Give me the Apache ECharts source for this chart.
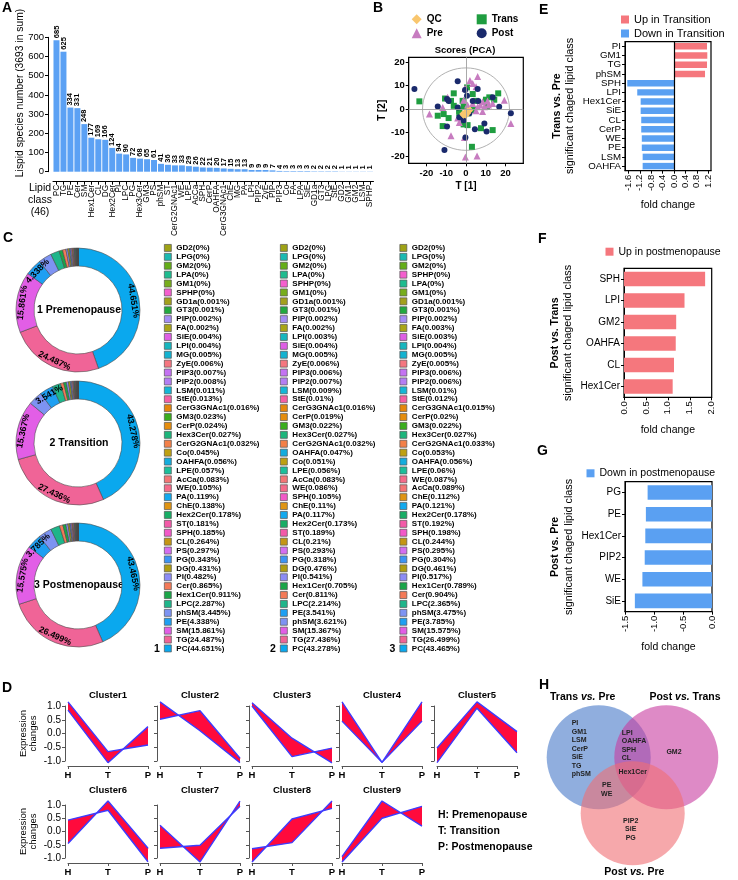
<!DOCTYPE html>
<html>
<head>
<meta charset="utf-8">
<script src="https://cdn.jsdelivr.net/npm/echarts@6.0.0/dist/echarts.min.js"></script>
<style>
html,body{margin:0;padding:0;background:#fff;}
#chart{width:738px;height:880px;}
</style>
</head>
<body>
<div id="chart"></div>
<script>
// ================= DATA =================
// Panel A
const lipidClasses = ['PC','TG','PE','Cer','SM','Hex1Cer','CL','DG','Hex2Cer','PI','LPC','PG','Hex3Cer','GM3','PS','phSM','ST','CerG2GNAc1','WE','LPE','AcCa','SPH','CerP','OAHFA','CerG3GNAc1','ChE','MG','PA','LPI','PIP2','ZyE','PIP','PIP3','Co','FA','LPA','SiE','GD1a','GT3','LPG','StE','GD2','GM1','GM2','LSM','SPHP'];
const lipidCounts = [685,625,334,331,248,177,169,166,124,94,90,72,68,65,61,41,36,33,33,29,26,22,21,20,17,15,13,13,9,9,9,7,4,3,3,3,3,2,2,2,2,1,1,1,1,1];

// Panel B (PCA scores)
const pcaQC = [[-1.7,-2.1],[-0.5,-1.4],[0.5,-0.7],[1.3,-1.0],[2.0,-0.4],[0,-2.6],[-1.2,-2.6],[0.8,-1.8]];
const pcaPre = [[-18.5,-2.1],[-11.8,0.7],[-9.3,5.0],[2.0,12.1],[3.4,10.9],[5.1,9.5],[5.9,13.8],[-0.5,8.9],[-1.2,3.8],[0.8,1.8],[3.4,2.4],[5.9,1.0],[7.2,1.7],[8.4,3.1],[9.3,1.0],[10.9,3.5],[13.5,2.4],[19.4,3.8],[22.7,-6.1],[5.1,-0.7],[-4.2,-3.8],[-3.4,-5.7],[-7.6,-11.3],[-0.3,-20.3],[5.6,-19.9],[-0.8,-12.1],[8.4,-1.0],[11.4,1.8]];
const pcaTrans = [[-23.6,3.3],[-10.6,4.5],[-6.2,6.7],[-7.6,3.5],[-3.4,-0.7],[-1.2,1.0],[-14.3,-2.8],[-11.3,-2.1],[-8.8,-3.8],[-11.8,-7.2],[-3.4,-1.8],[-1.2,-6.5],[0.8,-6.8],[-1.7,3.5],[0.5,9.2],[3.4,6.4],[5.1,3.5],[10.1,4.0],[11.8,5.0],[16.3,6.7],[14.3,4.0],[10.6,1.0],[1.2,-1.8],[3.9,-0.4],[13.5,-8.9],[3.0,-16.0],[7.6,-8.1],[-6.2,1.4]];
const pcaPost = [[-26.1,8.5],[-4.2,11.8],[-14.3,1.1],[-9.6,4.3],[-8.8,3.5],[-0.5,8.1],[0.5,5.7],[3.4,3.5],[1.7,-1.7],[6.2,3.5],[-9.6,-7.4],[-3.4,-3.5],[-1.2,-4.7],[4.5,-8.5],[9.3,-6.1],[10.4,-9.5],[16.8,1.0],[22.7,-1.8],[-10.9,-17.4],[-0.3,-12.1],[5.9,8.5],[13.5,5.0],[-4.2,0.7]];
const pcaTicks = [-20,-10,0,10,20];
const pcaEllipseSemiAxes = [22, 17.5];

// Panel C (percent of lipid species per group, legend order)
const preNames = ['GD2','LPG','GM2','LPA','GM1','SPHP','GD1a','GT3','PIP','FA','SiE','LPI','MG','ZyE','PIP3','PIP2','LSM','StE','CerG3GNAc1','GM3','CerP','Hex3Cer','CerG2GNAc1','Co','OAHFA','LPE','AcCa','WE','PA','ChE','Hex2Cer','ST','SPH','CL','PS','PG','DG','PI','Cer','Hex1Cer','LPC','phSM','PE','SM','TG','PC'];
const prePct = [0,0,0,0,0,0,0.001,0.001,0.002,0.002,0.004,0.004,0.005,0.006,0.007,0.008,0.011,0.013,0.016,0.023,0.024,0.027,0.032,0.045,0.056,0.057,0.083,0.105,0.119,0.138,0.178,0.181,0.185,0.264,0.297,0.343,0.431,0.482,0.865,0.911,2.287,3.445,4.338,15.861,24.487,44.651];
const transNames = ['GD2','LPG','GM2','LPA','SPHP','GM1','GD1a','GT3','PIP','FA','LPI','SiE','MG','ZyE','PIP3','PIP2','LSM','StE','CerG3GNAc1','CerP','GM3','Hex3Cer','CerG2GNAc1','OAHFA','Co','LPE','AcCa','WE','SPH','ChE','PA','Hex2Cer','ST','CL','PS','PG','DG','PI','Hex1Cer','Cer','LPC','PE','phSM','SM','TG','PC'];
const transPct = [0,0,0,0,0,0,0.001,0.001,0.002,0.002,0.003,0.004,0.005,0.006,0.006,0.007,0.009,0.01,0.016,0.019,0.022,0.027,0.032,0.047,0.051,0.056,0.083,0.086,0.105,0.11,0.117,0.173,0.189,0.21,0.293,0.318,0.476,0.541,0.705,0.811,2.214,3.541,3.621,15.367,27.436,43.278];
const postNames = ['GD2','LPG','GM2','SPHP','LPA','GM1','GD1a','GT3','PIP','FA','SiE','LPI','MG','ZyE','PIP3','PIP2','LSM','StE','CerG3GNAc1','CerP','GM3','Hex3Cer','CerG2GNAc1','Co','OAHFA','LPE','WE','AcCa','ChE','PA','Hex2Cer','ST','SPH','CL','PS','PG','DG','PI','Hex1Cer','Cer','LPC','phSM','PE','SM','TG','PC'];
const postPct = [0,0,0,0,0,0,0.001,0.001,0.002,0.003,0.003,0.004,0.005,0.005,0.006,0.006,0.01,0.012,0.015,0.02,0.022,0.027,0.033,0.053,0.056,0.06,0.087,0.089,0.112,0.121,0.178,0.192,0.198,0.244,0.295,0.304,0.461,0.517,0.789,0.904,2.365,3.475,3.785,15.575,26.499,43.465];
const donutTitles = ['1 Premenopause','2 Transition','3 Postmenopause'];
const donutIndexLabels = ['1','2','3'];

// Panel D (cluster profiles: two bounding profiles per cluster)
const timePoints = ['H','T','P'];
const clusterNames = ['Cluster1','Cluster2','Cluster3','Cluster4','Cluster5','Cluster6','Cluster7','Cluster8','Cluster9'];
const profileA = [[1.15,-0.66,-0.42],[1.15,0.1,-1.06],[1.12,-0.17,-1.07],[1.15,-1.05,1.15],[-0.53,1.15,0.07],[0.43,0.8,-1.14],[0.24,-1.15,1.15],[-0.65,-0.42,1.15],[-0.95,1.15,0.2]];
const profileB = [[0.85,-1.06,0.25],[0.52,0.83,-0.9],[1.0,-0.84,-0.53],[0.45,-1.05,0.45],[-1.06,0.92,-0.7],[-0.45,1.15,-0.63],[-0.63,-0.52,0.95],[-1.15,0.47,0.87],[-1.15,0.5,0.95]];
const timeLegend = ['H: Premenopause','T: Transition','P: Postmenopause'];

// Panel E
const eClasses = ['PI','GM1','TG','phSM','SPH','LPI','Hex1Cer','SiE','CL','CerP','WE','PE','LSM','OAHFA'];
const eFold = [1.16,1.17,1.16,1.09,-1.64,-1.29,-1.17,-1.17,-1.15,-1.15,-1.13,-1.13,-1.10,-1.10];
const eTicks = [-1.6,-1.2,-0.8,-0.4,0,0.4,0.8,1.2];
// Panel F
const fClasses = ['SPH','LPI','GM2','OAHFA','CL','Hex1Cer'];
const fFold = [1.85,1.38,1.19,1.18,1.14,1.11];
// Panel G
const gClasses = ['PG','PE','Hex1Cer','PIP2','WE','SiE'];
const gFold = [-1.11,-1.14,-1.15,-1.16,-1.20,-1.33];

// Panel H (Venn membership)
const vennTransPreOnly = ['PI','GM1','LSM','CerP','SiE','TG','phSM'];
const vennTransPreAndPostTrans = ['LPI','OAHFA','SPH','CL'];
const vennPostTransOnly = ['GM2'];
const vennAllThree = ['Hex1Cer'];
const vennTransPreAndPostPre = ['PE','WE'];
const vennPostPreOnly = ['PIP2','SiE','PG'];

// ================= STYLE =================
const FONT = '"Liberation Sans", Arial, Helvetica, sans-serif';
const classColor = {
  PC:'#0aa8ee', TG:'#f06497', SM:'#e25ee6', PE:'#1e9ff2', phSM:'#7d93f2', LPC:'#1fb58a', Hex1Cer:'#1aa548',
  Cer:'#f47a58', PI:'#8c8cf5', DG:'#b09d10', PG:'#3d94f3', PS:'#d46ef0', CL:'#c49614', SPH:'#f259c8',
  ST:'#f35aa8', Hex2Cer:'#18ad65', ChE:'#df9413', PA:'#12a9ee', WE:'#f56b8a', AcCa:'#f47575', LPE:'#1cbf9b',
  OAHFA:'#14acdd', Co:'#bea012', CerG2GNAc1:'#f38048', Hex3Cer:'#1cb57b', CerP:'#e58d0e', GM3:'#3aad1e',
  CerG3GNAc1:'#e5870c', StE:'#f55fa3', LSM:'#14b7d6', PIP2:'#b47ef3', PIP3:'#c472f2', ZyE:'#f57680',
  MG:'#13b2d0', LPI:'#17b6be', SiE:'#de5fe4', FA:'#a9a517', PIP:'#a58cf4', GT3:'#22a940', GD1a:'#a3a01c',
  SPHP:'#f45fce', GM1:'#77ad1c', LPA:'#1ebc8f', GM2:'#64ad18', LPG:'#1bb9b1', GD2:'#9ea216'
};
const UP = '#f5777d', DOWN = '#5aa0f2';

function ts(size, bold, color) {
  return {color: color || '#000', fontFamily: FONT, fontSize: size, fontWeight: bold ? 'bold' : 'normal'};
}
const blackLine = {show: true, onZero: false, lineStyle: {color: '#000', width: 1}};
const blackTick = {show: true, length: 3, lineStyle: {color: '#000', width: 1}};

const grids = [], xAxes = [], yAxes = [], series = [], legends = [], gfx = [];

// ---------- A ----------
grids.push({left: 53, top: 37.3, width: 320.5, height: 134.4, outerBoundsMode: 'none'});
xAxes.push({type: 'category', gridIndex: 0, data: lipidClasses, offset: 10,
  axisLine: blackLine, axisTick: Object.assign({interval: 0, alignWithLabel: true}, blackTick),
  axisLabel: Object.assign({interval: 0, rotate: 90, margin: 3}, ts(8.3)), splitLine: {show: false}});
yAxes.push({type: 'value', gridIndex: 0, min: 0, max: 700, interval: 100, offset: 5,
  axisLine: blackLine, axisTick: blackTick, axisLabel: Object.assign({margin: 4}, ts(9.5)), splitLine: {show: false}});
series.push({type: 'bar', xAxisIndex: 0, yAxisIndex: 0, data: lipidCounts, barCategoryGap: '14%',
  itemStyle: {color: '#5ba1f4'}, silent: true,
  label: Object.assign({show: true, position: 'top', rotate: 90, align: 'left', verticalAlign: 'middle', distance: 2}, ts(7.5, true))});

// ---------- B ----------
grids.push({left: 408.7, top: 57.3, width: 114.6, height: 106, show: true, borderColor: '#000', borderWidth: 1.2, outerBoundsMode: 'none'});
xAxes.push({type: 'value', gridIndex: 1, min: -29, max: 29, axisLine: blackLine,
  axisTick: Object.assign({customValues: pcaTicks}, blackTick),
  axisLabel: Object.assign({customValues: pcaTicks, margin: 5}, ts(9.5, true)), splitLine: {show: false},
  name: 'T [1]', nameLocation: 'middle', nameGap: 18, nameTextStyle: ts(10, true)});
yAxes.push({type: 'value', gridIndex: 1, min: -23, max: 22, axisLine: blackLine,
  axisTick: Object.assign({customValues: pcaTicks}, blackTick),
  axisLabel: Object.assign({customValues: pcaTicks, margin: 4}, ts(9.5, true)), splitLine: {show: false},
  name: 'T [2]', nameLocation: 'middle', nameGap: 18, nameTextStyle: ts(10, true)});
series.push({type: 'custom', xAxisIndex: 1, yAxisIndex: 1, silent: true, data: [[0, 0]],
  renderItem: function (params, api) {
    const c = api.coord([api.value(0), api.value(1)]);
    const s = api.size(pcaEllipseSemiAxes);
    return {type: 'ellipse', shape: {cx: c[0], cy: c[1], rx: s[0], ry: s[1]}, style: {fill: 'none', stroke: '#a8a8a8', lineWidth: 0.9}};
  },
  markLine: {silent: true, symbol: 'none', animation: false, label: {show: false},
    lineStyle: {color: '#a0a0a0', width: 0.9, type: 'solid'}, data: [{xAxis: 0}, {yAxis: 0}]}
});
const pcaGroups = [
  {name: 'Trans', data: pcaTrans, symbol: 'rect', size: 6, color: '#1f9d40'},
  {name: 'Pre', data: pcaPre, symbol: 'triangle', size: 7, color: '#c77cc0'},
  {name: 'Post', data: pcaPost, symbol: 'circle', size: 6, color: '#1a2a6c'},
  {name: 'QC', data: pcaQC, symbol: 'diamond', size: 7, color: '#f9c66e'}
];
pcaGroups.forEach(g => series.push({type: 'scatter', name: g.name, xAxisIndex: 1, yAxisIndex: 1, data: g.data,
  symbol: g.symbol, symbolSize: g.size, itemStyle: {color: g.color, opacity: 1}, silent: true}));
legends.push({orient: 'vertical', left: 411.7, top: 13.3, itemWidth: 10, itemHeight: 10, itemGap: 2, padding: 0, selectedMode: false,
  data: ['QC', 'Pre'], textStyle: Object.assign({lineHeight: 12}, ts(10, true))});
legends.push({orient: 'vertical', left: 476.7, top: 13.3, itemWidth: 10, itemHeight: 10, itemGap: 2, padding: 0, selectedMode: false,
  data: ['Trans', 'Post'], textStyle: Object.assign({lineHeight: 12}, ts(10, true))});

// ---------- E / F / G ----------
function foldPanel(gi, box, classes, fold, xcfg, upName, downName, bandGap, labelSize) {
  grids.push(Object.assign({show: true, borderColor: '#000', borderWidth: 1.2, outerBoundsMode: 'none'}, box));
  xAxes.push(Object.assign({type: 'value', gridIndex: gi, axisLine: blackLine, splitLine: {show: false},
    nameLocation: 'middle', name: 'fold change', nameTextStyle: ts(10.5)}, xcfg));
  yAxes.push({type: 'category', gridIndex: gi, data: classes, inverse: true, axisLine: blackLine,
    axisTick: Object.assign({alignWithLabel: true, interval: 0}, blackTick),
    axisLabel: Object.assign({margin: 4, interval: 0}, ts(labelSize)), splitLine: {show: false}});
  const s = [];
  if (upName) s.push({type: 'bar', name: upName, xAxisIndex: gi, yAxisIndex: gi, silent: true,
    data: fold.map(v => v > 0 ? v : '-'), itemStyle: {color: UP}, barGap: '-100%', barCategoryGap: bandGap});
  if (downName) s.push({type: 'bar', name: downName, xAxisIndex: gi, yAxisIndex: gi, silent: true,
    data: fold.map(v => v < 0 ? v : '-'), itemStyle: {color: DOWN}, barGap: '-100%', barCategoryGap: bandGap});
  return s;
}
const fmt1 = v => (Math.abs(v) < 1e-9 ? 0 : v).toFixed(1);
const eSeries = foldPanel(2, {left: 625, top: 41.7, width: 86, height: 129}, eClasses, eFold,
  {min: -1.72, max: 1.3, nameGap: 29,
   axisTick: Object.assign({customValues: eTicks}, blackTick),
   axisLabel: Object.assign({customValues: eTicks, rotate: 90, margin: 4, formatter: fmt1}, ts(9.5))},
  'Up in Transition', 'Down in Transition', '30%', 9.7);
eSeries[0].markLine = {silent: true, symbol: 'none', animation: false, label: {show: false},
  lineStyle: {color: '#000', width: 1.2, type: 'solid'}, data: [{xAxis: 0}]};
eSeries.forEach(s => series.push(s));
foldPanel(3, {left: 624, top: 268.3, width: 87.7, height: 129}, fClasses, fFold,
  {min: 0, max: 2, interval: 0.5, nameGap: 27, axisTick: blackTick,
   axisLabel: Object.assign({rotate: 90, margin: 4, formatter: fmt1}, ts(9.5))},
  'Up in postmenopause', null, '33%', 10).forEach(s => series.push(s));
foldPanel(4, {left: 625, top: 481.7, width: 87, height: 130}, gClasses, gFold,
  {min: -1.5, max: 0, interval: 0.5, nameGap: 30, axisTick: blackTick,
   axisLabel: Object.assign({rotate: 90, margin: 4, formatter: fmt1}, ts(9.5))},
  null, 'Down in postmenopause', '33%', 10).forEach(s => series.push(s));
legends.push({orient: 'vertical', left: 621, top: 13.5, itemWidth: 8, itemHeight: 8, itemGap: 2, padding: 0, icon: 'rect', selectedMode: false,
  data: ['Up in Transition', 'Down in Transition'], textStyle: Object.assign({lineHeight: 12}, ts(11))});
legends.push({orient: 'vertical', left: 605.5, top: 245.7, itemWidth: 8, itemHeight: 8, itemGap: 2, padding: 0, icon: 'rect', selectedMode: false,
  data: ['Up in postmenopause'], textStyle: Object.assign({lineHeight: 12}, ts(10.5))});
legends.push({orient: 'vertical', left: 586.5, top: 467.3, itemWidth: 8, itemHeight: 8, itemGap: 2, padding: 0, icon: 'rect', selectedMode: false,
  data: ['Down in postmenopause'], textStyle: Object.assign({lineHeight: 12}, ts(10.5))});

// ---------- D ----------
const dLefts = [68, 160, 252, 342, 437];
const dRows = [{top: 706, height: 55}, {top: 805, height: 53}];
clusterNames.forEach((cn, k) => {
  const row = k < 5 ? 0 : 1, col = k < 5 ? k : k - 5;
  const gi = grids.length;
  const box = {left: dLefts[col], top: dRows[row].top, width: 80, height: dRows[row].height, outerBoundsMode: 'none'};
  grids.push(box);
  const grey = {show: true, onZero: false, lineStyle: {color: '#555', width: 1}};
  const greyTick = {show: true, length: 3, lineStyle: {color: '#555', width: 1}};
  xAxes.push({type: 'category', gridIndex: gi, data: timePoints, boundaryGap: false, offset: 5,
    axisLine: grey, axisTick: greyTick, axisLabel: Object.assign({margin: 4}, ts(9.5, true)), splitLine: {show: false}});
  yAxes.push({type: 'value', gridIndex: gi, min: -1, max: 1, interval: 0.5, offset: 3,
    axisLine: grey, axisTick: greyTick,
    axisLabel: Object.assign({show: col === 0, margin: 4, formatter: fmt1}, ts(10)), splitLine: {show: false}});
  const a = profileA[k], b = profileB[k];
  [a, b].forEach(p => series.push({type: 'line', xAxisIndex: gi, yAxisIndex: gi, data: p, symbol: 'none', clip: false,
    silent: true, lineStyle: {color: '#3c3cff', width: 1.4}}));
  series.push({type: 'custom', xAxisIndex: gi, yAxisIndex: gi, silent: true, data: [[0, a[0]], [1, a[1]]],
    renderItem: function (params, api) {
      const i = params.dataIndex;
      const pts = [api.coord([i, a[i]]), api.coord([i + 1, a[i + 1]]), api.coord([i + 1, b[i + 1]]), api.coord([i, b[i]])];
      return {type: 'polygon', shape: {points: pts}, style: {fill: '#ff0a3c', stroke: null}};
    }});
  gfx.push({type: 'text', x: box.left + 40, y: row === 0 ? 695 : 790, silent: true,
    style: {text: cn, fill: '#000', fontFamily: FONT, fontSize: 9.5, fontWeight: 'bold', align: 'center', verticalAlign: 'middle'}});
});
[733.5, 831.5].forEach(cy => gfx.push({type: 'text', x: 28, y: cy, rotation: Math.PI / 2, silent: true,
  style: {text: 'Expression\nchanges', fill: '#000', fontFamily: FONT, fontSize: 9.5, lineHeight: 10, align: 'center', verticalAlign: 'middle'}}));
timeLegend.forEach((t, i) => gfx.push({type: 'text', x: 438, y: 815 + i * 16.3, silent: true,
  style: {text: t, fill: '#000', fontFamily: FONT, fontSize: 10.5, fontWeight: 'bold', align: 'left', verticalAlign: 'middle'}}));

// ---------- C (donuts) ----------
const donutCenters = [[78, 310], [78, 443], [78, 585]];
const donutSets = [[preNames, prePct], [transNames, transPct], [postNames, postPct]];
const legendLefts = [164, 280, 399.5];
donutSets.forEach(([names, pct], d) => {
  const items = names.map((n, i) => ({name: n + '(' + pct[i] + '%)', value: pct[i], itemStyle: {color: classColor[n]}}));
  series.push({type: 'pie', center: donutCenters[d], radius: [44, 62], startAngle: 90, clockwise: true,
    avoidLabelOverlap: false, silent: true, minAngle: 0,
    itemStyle: {borderColor: '#4a4a4a', borderWidth: 0.6},
    label: Object.assign({show: true, position: 'inside', rotate: 'tangential',
      formatter: p => (p.value >= 3 ? p.value + '%' : '')}, ts(8.8, true)),
    labelLine: {show: false}, emphasis: {disabled: true},
    data: items.slice().reverse()});
  legends.push({orient: 'vertical', left: legendLefts[d], top: 243.5, itemWidth: 7, itemHeight: 7, itemGap: 0, padding: 0,
    icon: 'rect', selectedMode: false, data: items.map(it => it.name),
    itemStyle: {borderColor: '#555', borderWidth: 0.7},
    textStyle: Object.assign({lineHeight: 8.9}, ts(8, true))});
  gfx.push({type: 'text', x: donutCenters[d][0] + 1, y: donutCenters[d][1], silent: true,
    style: {text: donutTitles[d], fill: '#000', fontFamily: FONT, fontSize: 10.5, fontWeight: 'bold', align: 'center', verticalAlign: 'middle'}});
  gfx.push({type: 'text', x: legendLefts[d] - 7, y: 649, silent: true,
    style: {text: donutIndexLabels[d], fill: '#000', fontFamily: FONT, fontSize: 10.5, fontWeight: 'bold', align: 'center', verticalAlign: 'middle'}});
});

// ---------- Panel letters & titles ----------
[['A', 2, 1], ['B', 373, 1], ['E', 539, 3], ['C', 3, 231], ['F', 538, 232], ['G', 537, 444], ['D', 2, 681], ['H', 539, 678]]
  .forEach(([t, x, y]) => gfx.push({type: 'text', x, y, silent: true,
    style: {text: t, fill: '#000', fontFamily: FONT, fontSize: 14, fontWeight: 'bold', align: 'left', verticalAlign: 'top'}}));
gfx.push({type: 'text', x: 20, y: 93, rotation: Math.PI / 2, silent: true,
  style: {text: 'Lispid species number (3693 in sum)', fill: '#000', fontFamily: FONT, fontSize: 10.3, align: 'center', verticalAlign: 'middle'}});
gfx.push({type: 'text', x: 40, y: 200, silent: true,
  style: {text: 'Lipid\nclass\n(46)', fill: '#000', fontFamily: FONT, fontSize: 10.5, lineHeight: 11.7, align: 'center', verticalAlign: 'middle'}});
gfx.push({type: 'text', x: 465, y: 50, silent: true,
  style: {text: 'Scores (PCA)', fill: '#000', fontFamily: FONT, fontSize: 9.5, fontWeight: 'bold', align: 'center', verticalAlign: 'middle'}});
[['Trans vs. Pre', 556.7, 570, 106], ['Post vs. Trans', 555, 568, 333], ['Post vs. Pre', 555, 569.3, 547]].forEach(([t, xb, xn, cy]) => {
  gfx.push({type: 'text', x: xb, y: cy, rotation: Math.PI / 2, silent: true,
    style: {text: t, fill: '#000', fontFamily: FONT, fontSize: 10.5, fontWeight: 'bold', align: 'center', verticalAlign: 'middle'}});
  gfx.push({type: 'text', x: xn, y: cy, rotation: Math.PI / 2, silent: true,
    style: {text: 'significant chaged lipid class', fill: '#000', fontFamily: FONT, fontSize: 10.8, align: 'center', verticalAlign: 'middle'}});
});

// ---------- H (Venn) ----------
[[598.7, 757.3, 'rgba(70,120,200,0.6)'], [666.3, 757.3, 'rgba(200,60,160,0.6)'], [632.7, 813.3, 'rgba(240,110,115,0.6)']]
  .forEach(([cx, cy, fill]) => gfx.push({type: 'circle', silent: true, shape: {cx, cy, r: 52}, style: {fill, stroke: null}}));
const vr = {b: {fontFamily: FONT, fontSize: 10.5, fontWeight: 'bold', fill: '#000'}, i: {fontFamily: FONT, fontSize: 10.5, fontWeight: 'bold', fontStyle: 'italic', fill: '#000'}};
[['Trans ', ' Pre', 582.7, 697.3], ['Post ', ' Trans', 685, 697.3], ['Post ', ' Pre', 634.3, 871.7]].forEach(([p1, p2, x, y]) =>
  gfx.push({type: 'text', x, y, silent: true, style: {text: '{b|' + p1 + '}{i|vs.}{b|' + p2 + '}', rich: vr, align: 'center', verticalAlign: 'middle'}}));
[[vennTransPreOnly, 571.7, 723.3, 'left'], [vennTransPreAndPostTrans, 621.7, 732.7, 'left'], [vennPostTransOnly, 674, 751.7, 'center'],
 [vennAllThree, 632.7, 772.3, 'center'], [vennTransPreAndPostPre, 606.7, 785.3, 'center'], [vennPostPreOnly, 630.7, 820.7, 'center']]
  .forEach(([arr, x, y, al]) => gfx.push({type: 'text', x, y: y - 4.25, silent: true,
    style: {text: arr.join('\n'), fill: '#222', fontFamily: FONT, fontSize: 7, fontWeight: 'bold', lineHeight: 8.5, align: al, verticalAlign: 'top'}}));

const option = {
  animation: false,
  backgroundColor: '#fff',
  textStyle: {fontFamily: FONT, color: '#000'},
  grid: grids, xAxis: xAxes, yAxis: yAxes, series, legend: legends,
  graphic: {elements: gfx}
};
const chart = echarts.init(document.getElementById('chart'), null, {renderer: 'canvas', width: 738, height: 880});
chart.setOption(option);
</script>
</body>
</html>
